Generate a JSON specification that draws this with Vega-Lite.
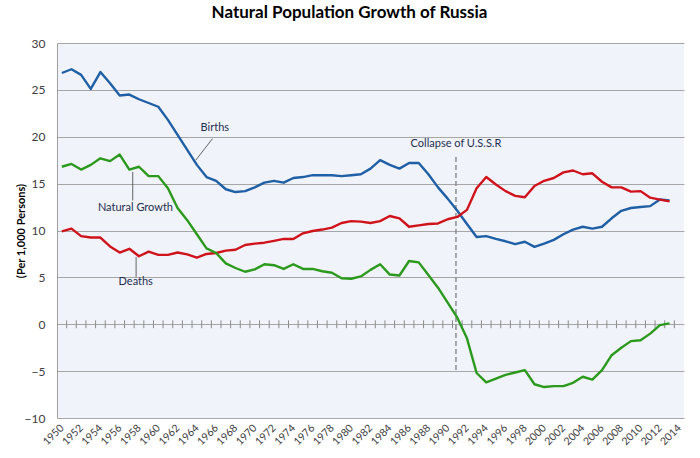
{
  "$schema": "https://vega.github.io/schema/vega-lite/v6.json",
  "width": 627,
  "height": 375,
  "autosize": "none",
  "padding": {"left": 57, "top": 43, "right": 16, "bottom": 40},
  "title": {
    "text": "Natural Population Growth of Russia",
    "fontSize": 17,
    "fontWeight": "bold",
    "font": "Lato",
    "color": "#000000",
    "anchor": "middle",
    "dx": -21,
    "offset": 15
  },
  "datasets": {
    "rates": [
      {"year": 1950, "Births": 26.8, "Deaths": 9.9, "Natural Growth": 16.8},
      {"year": 1951, "Births": 27.2, "Deaths": 10.2, "Natural Growth": 17.1},
      {"year": 1952, "Births": 26.6, "Deaths": 9.4, "Natural Growth": 16.5},
      {"year": 1953, "Births": 25.1, "Deaths": 9.25, "Natural Growth": 17.0},
      {"year": 1954, "Births": 26.9, "Deaths": 9.25, "Natural Growth": 17.7},
      {"year": 1955, "Births": 25.7, "Deaths": 8.3, "Natural Growth": 17.4},
      {"year": 1956, "Births": 24.4, "Deaths": 7.65, "Natural Growth": 18.1},
      {"year": 1957, "Births": 24.5, "Deaths": 8.05, "Natural Growth": 16.5},
      {"year": 1958, "Births": 24.0, "Deaths": 7.25, "Natural Growth": 16.8},
      {"year": 1959, "Births": 23.6, "Deaths": 7.75, "Natural Growth": 15.8},
      {"year": 1960, "Births": 23.2, "Deaths": 7.4, "Natural Growth": 15.8},
      {"year": 1961, "Births": 21.8, "Deaths": 7.4, "Natural Growth": 14.5},
      {"year": 1962, "Births": 20.2, "Deaths": 7.65, "Natural Growth": 12.4},
      {"year": 1963, "Births": 18.6, "Deaths": 7.45, "Natural Growth": 11.1},
      {"year": 1964, "Births": 17.0, "Deaths": 7.1, "Natural Growth": 9.6},
      {"year": 1965, "Births": 15.7, "Deaths": 7.5, "Natural Growth": 8.1},
      {"year": 1966, "Births": 15.3, "Deaths": 7.6, "Natural Growth": 7.6},
      {"year": 1967, "Births": 14.4, "Deaths": 7.85, "Natural Growth": 6.5},
      {"year": 1968, "Births": 14.1, "Deaths": 7.95, "Natural Growth": 6.0},
      {"year": 1969, "Births": 14.2, "Deaths": 8.45, "Natural Growth": 5.6},
      {"year": 1970, "Births": 14.6, "Deaths": 8.6, "Natural Growth": 5.85},
      {"year": 1971, "Births": 15.1, "Deaths": 8.7, "Natural Growth": 6.4},
      {"year": 1972, "Births": 15.3, "Deaths": 8.9, "Natural Growth": 6.3},
      {"year": 1973, "Births": 15.1, "Deaths": 9.1, "Natural Growth": 5.9},
      {"year": 1974, "Births": 15.6, "Deaths": 9.1, "Natural Growth": 6.4},
      {"year": 1975, "Births": 15.7, "Deaths": 9.7, "Natural Growth": 5.9},
      {"year": 1976, "Births": 15.9, "Deaths": 9.95, "Natural Growth": 5.9},
      {"year": 1977, "Births": 15.9, "Deaths": 10.1, "Natural Growth": 5.65},
      {"year": 1978, "Births": 15.9, "Deaths": 10.3, "Natural Growth": 5.5},
      {"year": 1979, "Births": 15.8, "Deaths": 10.8, "Natural Growth": 4.9},
      {"year": 1980, "Births": 15.9, "Deaths": 11.0, "Natural Growth": 4.85},
      {"year": 1981, "Births": 16.0, "Deaths": 10.95, "Natural Growth": 5.1},
      {"year": 1982, "Births": 16.6, "Deaths": 10.8, "Natural Growth": 5.8},
      {"year": 1983, "Births": 17.5, "Deaths": 11.0, "Natural Growth": 6.4},
      {"year": 1984, "Births": 17.0, "Deaths": 11.55, "Natural Growth": 5.3},
      {"year": 1985, "Births": 16.6, "Deaths": 11.3, "Natural Growth": 5.2},
      {"year": 1986, "Births": 17.2, "Deaths": 10.4, "Natural Growth": 6.75},
      {"year": 1987, "Births": 17.2, "Deaths": 10.55, "Natural Growth": 6.6},
      {"year": 1988, "Births": 16.0, "Deaths": 10.7, "Natural Growth": 5.25},
      {"year": 1989, "Births": 14.6, "Deaths": 10.75, "Natural Growth": 3.9},
      {"year": 1990, "Births": 13.4, "Deaths": 11.2, "Natural Growth": 2.3},
      {"year": 1991, "Births": 12.1, "Deaths": 11.45, "Natural Growth": 0.7},
      {"year": 1992, "Births": 10.7, "Deaths": 12.2, "Natural Growth": -1.5},
      {"year": 1993, "Births": 9.3, "Deaths": 14.5, "Natural Growth": -5.2},
      {"year": 1994, "Births": 9.4, "Deaths": 15.7, "Natural Growth": -6.2},
      {"year": 1995, "Births": 9.1, "Deaths": 14.9, "Natural Growth": -5.8},
      {"year": 1996, "Births": 8.85, "Deaths": 14.2, "Natural Growth": -5.4},
      {"year": 1997, "Births": 8.55, "Deaths": 13.7, "Natural Growth": -5.15},
      {"year": 1998, "Births": 8.8, "Deaths": 13.55, "Natural Growth": -4.9},
      {"year": 1999, "Births": 8.25, "Deaths": 14.75, "Natural Growth": -6.4},
      {"year": 2000, "Births": 8.6, "Deaths": 15.3, "Natural Growth": -6.7},
      {"year": 2001, "Births": 9.0, "Deaths": 15.6, "Natural Growth": -6.6},
      {"year": 2002, "Births": 9.6, "Deaths": 16.2, "Natural Growth": -6.6},
      {"year": 2003, "Births": 10.1, "Deaths": 16.4, "Natural Growth": -6.25},
      {"year": 2004, "Births": 10.4, "Deaths": 16.0, "Natural Growth": -5.6},
      {"year": 2005, "Births": 10.2, "Deaths": 16.1, "Natural Growth": -5.9},
      {"year": 2006, "Births": 10.4, "Deaths": 15.2, "Natural Growth": -4.9},
      {"year": 2007, "Births": 11.3, "Deaths": 14.6, "Natural Growth": -3.3},
      {"year": 2008, "Births": 12.1, "Deaths": 14.6, "Natural Growth": -2.5},
      {"year": 2009, "Births": 12.4, "Deaths": 14.15, "Natural Growth": -1.8},
      {"year": 2010, "Births": 12.5, "Deaths": 14.2, "Natural Growth": -1.7},
      {"year": 2011, "Births": 12.6, "Deaths": 13.5, "Natural Growth": -1.0},
      {"year": 2012, "Births": 13.3, "Deaths": 13.3, "Natural Growth": -0.1},
      {"year": 2013, "Births": 13.2, "Deaths": 13.1, "Natural Growth": 0.1}
    ],
    "zeroTicks": [
      {"b": 1950.5}, {"b": 1951.5}, {"b": 1952.5}, {"b": 1953.5}, {"b": 1954.5},
      {"b": 1955.5}, {"b": 1956.5}, {"b": 1957.5}, {"b": 1958.5}, {"b": 1959.5},
      {"b": 1960.5}, {"b": 1961.5}, {"b": 1962.5}, {"b": 1963.5}, {"b": 1964.5},
      {"b": 1965.5}, {"b": 1966.5}, {"b": 1967.5}, {"b": 1968.5}, {"b": 1969.5},
      {"b": 1970.5}, {"b": 1971.5}, {"b": 1972.5}, {"b": 1973.5}, {"b": 1974.5},
      {"b": 1975.5}, {"b": 1976.5}, {"b": 1977.5}, {"b": 1978.5}, {"b": 1979.5},
      {"b": 1980.5}, {"b": 1981.5}, {"b": 1982.5}, {"b": 1983.5}, {"b": 1984.5},
      {"b": 1985.5}, {"b": 1986.5}, {"b": 1987.5}, {"b": 1988.5}, {"b": 1989.5},
      {"b": 1990.5}, {"b": 1991.5}, {"b": 1992.5}, {"b": 1993.5}, {"b": 1994.5},
      {"b": 1995.5}, {"b": 1996.5}, {"b": 1997.5}, {"b": 1998.5}, {"b": 1999.5},
      {"b": 2000.5}, {"b": 2001.5}, {"b": 2002.5}, {"b": 2003.5}, {"b": 2004.5},
      {"b": 2005.5}, {"b": 2006.5}, {"b": 2007.5}, {"b": 2008.5}, {"b": 2009.5},
      {"b": 2010.5}, {"b": 2011.5}, {"b": 2012.5}, {"b": 2013.5}
    ],
    "labels": [
      {"text": "Births", "x": 1965.86, "y": 20.9},
      {"text": "Natural Growth", "x": 1957.63, "y": 12.4},
      {"text": "Deaths", "x": 1957.66, "y": 4.5},
      {"text": "Collapse of U.S.S.R", "x": 1990.86, "y": 19.2}
    ],
    "leaders": [
      {"x": 1965.62, "y": 19.8, "x2": 1963.89, "y2": 17.5},
      {"x": 1957.35, "y": 16.25, "x2": 1957.35, "y2": 13.2},
      {"x": 1957.7, "y": 7.18, "x2": 1957.7, "y2": 5.05}
    ],
    "collapse": [
      {"x": 1990.86, "y": 17.85, "y2": -5}
    ]
  },
  "encoding": {
    "x": {
      "type": "quantitative",
      "scale": {"domain": [1949.5, 2014.5], "nice": false, "zero": false},
      "axis": {
        "title": null,
        "values": [1950, 1952, 1954, 1956, 1958, 1960, 1962, 1964, 1966, 1968, 1970, 1972, 1974, 1976, 1978, 1980, 1982, 1984, 1986, 1988, 1990, 1992, 1994, 1996, 1998, 2000, 2002, 2004, 2006, 2008, 2010, 2012, 2014],
        "format": "d",
        "labelAngle": -45,
        "labelAlign": "right",
        "labelBaseline": "middle",
        "labelPadding": 8,
        "labelFontSize": 10.5,
        "labelColor": "#404040",
        "labelFont": "Lato",
        "labelOverlap": false,
        "ticks": false,
        "domain": false,
        "grid": false
      }
    },
    "y": {
      "type": "quantitative",
      "scale": {"domain": [-10, 30], "nice": false, "zero": false},
      "axis": {
        "title": "(Per 1,000 Persons)",
        "titleFontSize": 11,
        "titleFontWeight": "bold",
        "titleFont": "Lato",
        "titleColor": "#000000",
        "titleX": -36,
        "titleBaseline": "middle",
        "values": [-10, -5, 0, 5, 10, 15, 20, 25, 30],
        "labelFontSize": 12,
        "labelFont": "Lato",
        "labelColor": "#404040",
        "labelPadding": 12,
        "ticks": false,
        "domainColor": "#a0a0a0",
        "grid": true,
        "gridColor": "#a6a6a6"
      }
    }
  },
  "layer": [
    {
      "data": {"name": "zeroTicks"},
      "mark": {"type": "rule", "color": "#8c8c8c", "strokeWidth": 1},
      "encoding": {
        "x": {"field": "b", "type": "quantitative"},
        "y": {"datum": -0.42},
        "y2": {"datum": 0.42}
      }
    },
    {
      "data": {"name": "collapse"},
      "mark": {"type": "rule", "color": "#8c8c8c", "strokeWidth": 1.5, "strokeDash": [5, 3]},
      "encoding": {
        "x": {"field": "x", "type": "quantitative"},
        "y": {"field": "y", "type": "quantitative"},
        "y2": {"field": "y2"}
      }
    },
    {
      "data": {"name": "rates"},
      "transform": [
        {"fold": ["Births", "Deaths", "Natural Growth"], "as": ["series", "value"]}
      ],
      "mark": {"type": "line", "strokeWidth": 2.4, "strokeJoin": "round"},
      "encoding": {
        "x": {"field": "year", "type": "quantitative"},
        "y": {"field": "value", "type": "quantitative"},
        "color": {
          "field": "series",
          "type": "nominal",
          "scale": {
            "domain": ["Births", "Deaths", "Natural Growth"],
            "range": ["#1f5fa6", "#d0121b", "#2b9a1c"]
          },
          "legend": null
        }
      }
    },
    {
      "data": {"name": "leaders"},
      "mark": {"type": "rule", "color": "#404040", "strokeWidth": 0.8},
      "encoding": {
        "x": {"field": "x", "type": "quantitative"},
        "y": {"field": "y", "type": "quantitative"},
        "x2": {"field": "x2"},
        "y2": {"field": "y2"}
      }
    },
    {
      "data": {"name": "labels"},
      "mark": {"type": "text", "font": "Lato", "fontSize": 11, "color": "#1f2f4f", "align": "center", "baseline": "middle"},
      "encoding": {
        "x": {"field": "x", "type": "quantitative"},
        "y": {"field": "y", "type": "quantitative"},
        "text": {"field": "text"}
      }
    }
  ],
  "config": {
    "view": {"fill": "#f0f3f9", "stroke": null}
  }
}
